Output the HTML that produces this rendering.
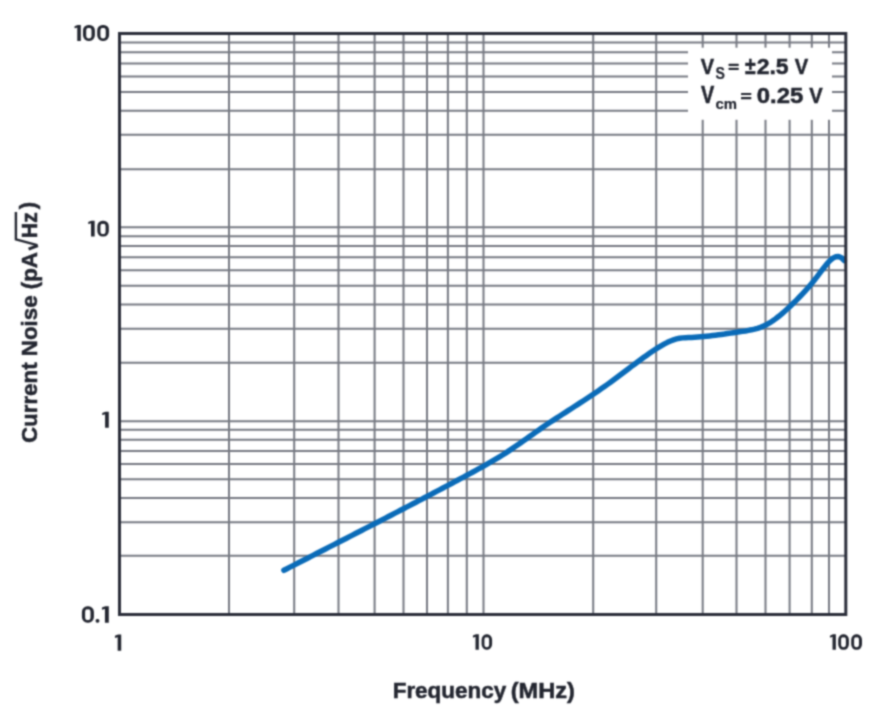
<!DOCTYPE html>
<html><head><meta charset="utf-8"><style>
html,body{margin:0;padding:0;background:#fff;width:872px;height:708px;overflow:hidden}
svg{display:block;font-family:"Liberation Sans",sans-serif;font-weight:bold}
</style></head><body>
<svg width="872" height="708" viewBox="0 0 872 708">
<defs><filter id="bl" x="0" y="0" width="872" height="708" filterUnits="userSpaceOnUse" color-interpolation-filters="sRGB"><feConvolveMatrix order="5" kernelMatrix="0.00026 0.00355 0.00838 0.00355 0.00026 0.00355 0.04928 0.11633 0.04928 0.00355 0.00838 0.11633 0.27458 0.11633 0.00838 0.00355 0.04928 0.11633 0.04928 0.00355 0.00026 0.00355 0.00838 0.00355 0.00026" edgeMode="duplicate"/></filter></defs>
<g filter="url(#bl)">
<rect width="872" height="708" fill="#fff"/>
<path d="M229.0 33.5V614.5M294.2 33.5V614.5M338.5 33.5V614.5M374.6 33.5V614.5M403.5 33.5V614.5M427.0 33.5V614.5M447.9 33.5V614.5M466.8 33.5V614.5M483.5 33.5V614.5M593.2 33.5V614.5M656.2 33.5V614.5M702.7 33.5V614.5M736.5 33.5V614.5M765.5 33.5V614.5M789.6 33.5V614.5M811.8 33.5V614.5M829.0 33.5V614.5M119.5 555.80H845.8M119.5 522.20H845.8M119.5 498.00H845.8M119.5 479.23H845.8M119.5 463.90H845.8M119.5 450.93H845.8M119.5 439.70H845.8M119.5 429.80H845.8M119.5 362.63H845.8M119.5 328.73H845.8M119.5 304.53H845.8M119.5 285.67H845.8M119.5 270.23H845.8M119.5 257.27H845.8M119.5 246.03H845.8M119.5 236.13H845.8M119.5 421.23H845.8M119.5 169.27H845.8M119.5 134.86H845.8M119.5 110.67H845.8M119.5 91.90H845.8M119.5 76.56H845.8M119.5 63.60H845.8M119.5 52.37H845.8M119.5 42.46H845.8M119.5 227.27H845.8" stroke="#767982" stroke-width="2" fill="none"/>
<rect x="688" y="47.7" width="144" height="72.1" fill="#fff"/>
<path d="M283.90 570.28L286.50 568.94L289.50 567.41L292.50 565.87L295.50 564.33L298.50 562.79L301.50 561.26L304.50 559.72L307.50 558.18L310.50 556.65L313.50 555.11L316.50 553.57L319.50 552.04L322.50 550.50L325.50 548.96L328.50 547.42L331.50 545.89L334.50 544.35L337.50 542.81L340.50 541.27L343.50 539.73L346.50 538.19L349.50 536.65L352.50 535.11L355.50 533.57L358.50 532.02L361.50 530.48L364.50 528.93L367.50 527.39L370.50 525.84L373.50 524.29L376.50 522.74L379.50 521.19L382.50 519.64L385.50 518.09L388.50 516.54L391.50 514.98L394.50 513.42L397.50 511.86L400.50 510.30L403.50 508.74L406.50 507.18L409.50 505.61L412.50 504.04L415.50 502.48L418.50 500.90L421.50 499.33L424.50 497.76L427.50 496.18L430.50 494.60L433.50 493.02L436.50 491.43L439.50 489.85L442.50 488.26L445.50 486.67L448.50 485.08L451.50 483.48L454.50 481.88L457.50 480.28L460.50 478.68L463.50 477.07L466.50 475.46L469.50 473.85L472.50 472.23L475.50 470.60L478.50 468.96L481.50 467.30L484.50 465.62L487.50 463.92L490.50 462.20L493.50 460.44L496.50 458.65L499.50 456.83L502.50 454.97L505.50 453.06L508.50 451.10L511.50 449.10L514.50 447.06L517.50 444.99L520.50 442.89L523.50 440.77L526.50 438.64L529.50 436.52L532.50 434.39L535.50 432.28L538.50 430.19L541.50 428.13L544.50 426.09L547.50 424.08L550.50 422.08L553.50 420.10L556.50 418.14L559.50 416.19L562.50 414.25L565.50 412.32L568.50 410.38L571.50 408.45L574.50 406.52L577.50 404.59L580.50 402.64L583.50 400.69L586.50 398.72L589.50 396.74L592.50 394.74L595.50 392.72L598.50 390.67L601.50 388.60L604.50 386.50L607.50 384.37L610.50 382.21L613.50 380.00L616.50 377.77L619.50 375.52L622.50 373.26L625.50 370.98L628.50 368.71L631.50 366.43L634.50 364.18L637.50 361.94L640.50 359.73L643.50 357.55L646.50 355.41L649.50 353.32L652.50 351.28L655.50 349.30L658.50 347.39L661.50 345.58L664.50 343.88L667.50 342.33L670.50 340.97L673.50 339.82L676.50 338.90L679.50 338.26L682.50 337.88L685.50 337.67L688.50 337.56L691.50 337.44L694.50 337.28L697.50 337.07L700.50 336.83L703.50 336.55L706.50 336.24L709.50 335.91L712.50 335.56L715.50 335.19L718.50 334.81L721.50 334.43L724.50 334.04L727.50 333.58L730.50 333.12L733.50 332.67L736.50 332.24L739.50 331.82L742.50 331.39L745.50 330.93L748.50 330.40L751.50 329.81L754.50 329.14L757.50 328.32L760.50 327.32L763.50 326.10L766.50 324.65L769.50 322.94L772.50 321.01L775.50 318.87L778.50 316.55L781.50 314.07L784.50 311.47L787.50 308.76L790.50 305.96L793.50 303.06L796.50 300.10L799.50 297.05L802.50 293.90L805.50 290.63L808.50 287.23L811.50 283.69L814.50 279.99L817.50 276.17L820.50 272.21L823.50 268.19L826.50 264.37L829.50 261.02L832.50 258.42L835.50 256.83L838.50 256.52L841.50 257.79L844.30 260.64" stroke="#0a6bb8" stroke-width="5.5" fill="none" stroke-linecap="round" stroke-linejoin="round"/>
<rect x="119.5" y="33.5" width="726.3" height="581.0" stroke="#2a2d39" stroke-width="3" fill="none"/>
<g fill="#22252f" fill-rule="evenodd">
<path transform="matrix(0.9545 0 0 1.0031 74.50 24.90)" d="M6.6 0V16H2.9V2.6L0.9 3.3Q0 3.6 0 2.7V1.9Q0 1.3 0.6 1.1L3.4 0Z"/>
<path transform="matrix(1.0348 0 0 1.0031 83.00 24.90)" d="M5.200 0.000H6.300A5.2 5.6 0 0 1 11.500 5.600V10.400A5.2 5.6 0 0 1 6.300 16.000H5.200A5.2 5.6 0 0 1 0.000 10.400V5.600A5.2 5.6 0 0 1 5.200 0.000ZM5.680 2.800H5.670A2.58 2.9 0 0 1 8.250 5.700V10.600A2.58 2.9 0 0 1 5.670 13.500H5.680A2.58 2.9 0 0 1 3.100 10.600V5.700A2.58 2.9 0 0 1 5.680 2.800Z"/>
<path transform="matrix(1.0348 0 0 1.0031 97.20 24.90)" d="M5.200 0.000H6.300A5.2 5.6 0 0 1 11.500 5.600V10.400A5.2 5.6 0 0 1 6.300 16.000H5.200A5.2 5.6 0 0 1 0.000 10.400V5.600A5.2 5.6 0 0 1 5.200 0.000ZM5.680 2.800H5.670A2.58 2.9 0 0 1 8.250 5.700V10.600A2.58 2.9 0 0 1 5.670 13.500H5.680A2.58 2.9 0 0 1 3.100 10.600V5.700A2.58 2.9 0 0 1 5.680 2.800Z"/>
<path transform="matrix(0.9773 0 0 0.9975 88.20 220.64)" d="M6.6 0V16H2.9V2.6L0.9 3.3Q0 3.6 0 2.7V1.9Q0 1.3 0.6 1.1L3.4 0Z"/>
<path transform="matrix(1.0000 0 0 0.9975 97.33 220.64)" d="M5.200 0.000H6.300A5.2 5.6 0 0 1 11.500 5.600V10.400A5.2 5.6 0 0 1 6.300 16.000H5.200A5.2 5.6 0 0 1 0.000 10.400V5.600A5.2 5.6 0 0 1 5.200 0.000ZM5.680 2.800H5.670A2.58 2.9 0 0 1 8.250 5.700V10.600A2.58 2.9 0 0 1 5.670 13.500H5.680A2.58 2.9 0 0 1 3.100 10.600V5.700A2.58 2.9 0 0 1 5.680 2.800Z"/>
<path transform="matrix(1.0000 0 0 1.0063 102.20 411.70)" d="M6.6 0V16H2.9V2.6L0.9 3.3Q0 3.6 0 2.7V1.9Q0 1.3 0.6 1.1L3.4 0Z"/>
<path transform="matrix(1.0435 0 0 1.0312 81.90 606.20)" d="M5.200 0.000H6.300A5.2 5.6 0 0 1 11.500 5.600V10.400A5.2 5.6 0 0 1 6.300 16.000H5.200A5.2 5.6 0 0 1 0.000 10.400V5.600A5.2 5.6 0 0 1 5.200 0.000ZM5.680 2.800H5.670A2.58 2.9 0 0 1 8.250 5.700V10.600A2.58 2.9 0 0 1 5.670 13.500H5.680A2.58 2.9 0 0 1 3.100 10.600V5.700A2.58 2.9 0 0 1 5.680 2.800Z"/>
<path transform="matrix(1.0000 0 0 1 95.60 606.70)" d="M1.600 12.200H2.200A1.6 1.6 0 0 1 3.800 13.800V14.400A1.6 1.6 0 0 1 2.200 16.000H1.600A1.6 1.6 0 0 1 0.000 14.400V13.800A1.6 1.6 0 0 1 1.600 12.200Z"/>
<path transform="matrix(1.0455 0 0 1.0312 101.90 606.20)" d="M6.6 0V16H2.9V2.6L0.9 3.3Q0 3.6 0 2.7V1.9Q0 1.3 0.6 1.1L3.4 0Z"/>
<path transform="matrix(0.9545 0 0 1.0156 114.90 634.50)" d="M6.6 0V16H2.9V2.6L0.9 3.3Q0 3.6 0 2.7V1.9Q0 1.3 0.6 1.1L3.4 0Z"/>
<path transform="matrix(0.9015 0 0 0.9625 472.90 634.30)" d="M6.6 0V16H2.9V2.6L0.9 3.3Q0 3.6 0 2.7V1.9Q0 1.3 0.6 1.1L3.4 0Z"/>
<path transform="matrix(0.9130 0 0 0.9625 481.60 634.30)" d="M5.200 0.000H6.300A5.2 5.6 0 0 1 11.500 5.600V10.400A5.2 5.6 0 0 1 6.300 16.000H5.200A5.2 5.6 0 0 1 0.000 10.400V5.600A5.2 5.6 0 0 1 5.200 0.000ZM5.680 2.800H5.670A2.58 2.9 0 0 1 8.250 5.700V10.600A2.58 2.9 0 0 1 5.670 13.500H5.680A2.58 2.9 0 0 1 3.100 10.600V5.700A2.58 2.9 0 0 1 5.680 2.800Z"/>
<path transform="matrix(0.9030 0 0 0.9588 829.90 634.36)" d="M6.6 0V16H2.9V2.6L0.9 3.3Q0 3.6 0 2.7V1.9Q0 1.3 0.6 1.1L3.4 0Z"/>
<path transform="matrix(0.9304 0 0 0.9588 838.20 634.36)" d="M5.200 0.000H6.300A5.2 5.6 0 0 1 11.500 5.600V10.400A5.2 5.6 0 0 1 6.300 16.000H5.200A5.2 5.6 0 0 1 0.000 10.400V5.600A5.2 5.6 0 0 1 5.200 0.000ZM5.680 2.800H5.670A2.58 2.9 0 0 1 8.250 5.700V10.600A2.58 2.9 0 0 1 5.670 13.500H5.680A2.58 2.9 0 0 1 3.100 10.600V5.700A2.58 2.9 0 0 1 5.680 2.800Z"/>
<path transform="matrix(0.9391 0 0 0.9588 851.20 634.36)" d="M5.200 0.000H6.300A5.2 5.6 0 0 1 11.500 5.600V10.400A5.2 5.6 0 0 1 6.300 16.000H5.200A5.2 5.6 0 0 1 0.000 10.400V5.600A5.2 5.6 0 0 1 5.200 0.000ZM5.680 2.800H5.670A2.58 2.9 0 0 1 8.250 5.700V10.600A2.58 2.9 0 0 1 5.670 13.500H5.680A2.58 2.9 0 0 1 3.100 10.600V5.700A2.58 2.9 0 0 1 5.680 2.800Z"/>
<rect x="728.6" y="63.7" width="10.10" height="2.20" rx="0.5"/>
<rect x="728.6" y="67.8" width="10.10" height="2.20" rx="0.5"/>
<rect x="741.0" y="92.9" width="10.30" height="2.20" rx="0.5"/>
<rect x="741.0" y="97.0" width="10.30" height="2.20" rx="0.5"/>
</g>
<g fill="#22252f" font-size="200">
<text transform="matrix(0.10000 0 0 0.11304 700.85 73.85)" stroke="#22252f" stroke-width="4.42">V</text>
<text transform="matrix(0.09700 0 0 0.11613 745.06 74.25)" stroke="#22252f" stroke-width="4.31">±</text>
<text transform="matrix(0.11509 0 0 0.11127 756.64 73.73)" stroke="#22252f" stroke-width="4.49">2.5</text>
<text transform="matrix(0.10077 0 0 0.11377 794.85 73.95)" stroke="#22252f" stroke-width="4.39">V</text>
<text transform="matrix(0.09923 0 0 0.11667 700.95 102.95)" stroke="#22252f" stroke-width="4.29">V</text>
<text transform="matrix(0.11941 0 0 0.10986 756.79 102.63)" stroke="#22252f" stroke-width="4.55">0.25</text>
<text transform="matrix(0.10077 0 0 0.11304 809.25 102.75)" stroke="#22252f" stroke-width="4.42">V</text>
<text transform="matrix(0.07083 0 0 0.08380 715.43 79.18)" stroke="#22252f" stroke-width="2.39">S</text>
<text transform="matrix(0.07435 0 0 0.07545 715.46 108.50)" stroke="#22252f" stroke-width="2.65">cm</text>
<text transform="matrix(0.11224 0 0 0.11232 392.69 697.8)" stroke="#22252f" stroke-width="4.45">Frequency</text>
<text transform="matrix(0.11794 0 0 0.11232 510.67 697.8)" stroke="#22252f" stroke-width="4.45">(MHz)</text>
<text transform="translate(36.85 443.04) rotate(-90) scale(0.11166 0.11377)" stroke="#22252f" stroke-width="4.39">Current Noise (pA</text>
<text transform="translate(36.85 238.13) rotate(-90) scale(0.10625 0.11377)" stroke="#22252f" stroke-width="4.39">Hz</text>
<text transform="translate(34.9 209.25) rotate(-90) scale(0.11166 0.11377)" stroke="#22252f" stroke-width="4.39">)</text>
</g>
<path d="M15.9 212V239.4L37.2 245.1" stroke="#22252f" stroke-width="2.4" fill="none" stroke-linejoin="miter"/>
<path d="M37.9 245.5L28.6 249.1" stroke="#22252f" stroke-width="3.1" fill="none"/>
</g>
</svg>
</body></html>
